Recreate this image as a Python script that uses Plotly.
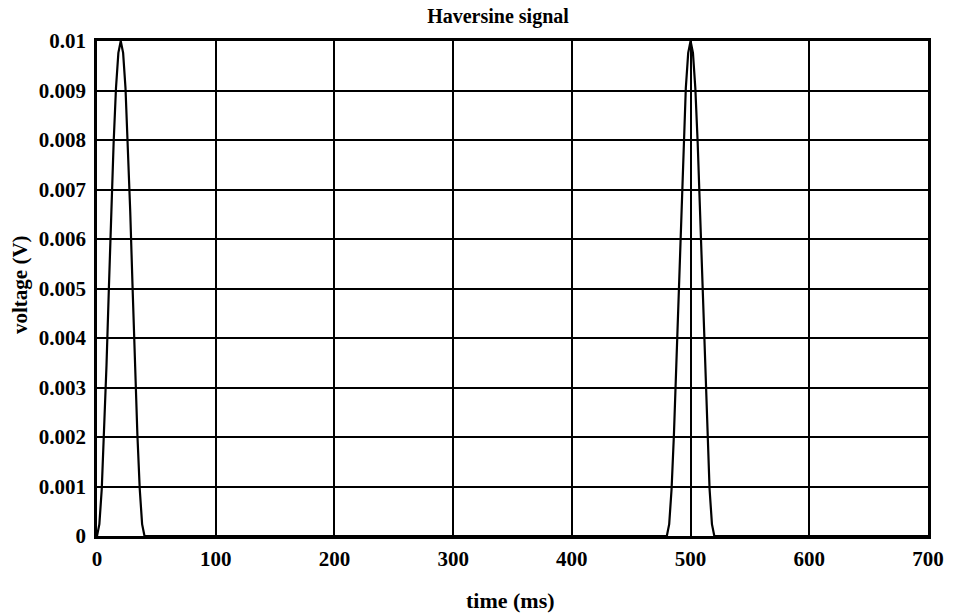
import plotly.graph_objects as go

# time samples (ms) and voltage (V)
time_ms = [0, 2, 4, 6, 8, 10, 12, 14, 16, 18, 20, 22, 24, 26, 28, 30, 32, 34, 36, 38, 40,
           480, 482, 484, 486, 488, 490, 492, 494, 496, 498, 500, 502, 504, 506, 508, 510,
           512, 514, 516, 518, 520,
           700]
voltage_v = [0, 0.00024, 0.00095, 0.00206, 0.00345, 0.005, 0.00655, 0.00794, 0.00905, 0.00976, 0.01,
             0.00976, 0.00905, 0.00794, 0.00655, 0.005, 0.00345, 0.00206, 0.00095, 0.00024, 0,
             0, 0.00024, 0.00095, 0.00206, 0.00345, 0.005, 0.00655, 0.00794, 0.00905, 0.00976, 0.01,
             0.00976, 0.00905, 0.00794, 0.00655, 0.005, 0.00345, 0.00206, 0.00095, 0.00024, 0,
             0]

x_ticks = [0, 100, 200, 300, 400, 500, 600, 700]
x_tick_labels = ["0", "100", "200", "300", "400", "500", "600", "700"]
y_ticks = [0, 0.001, 0.002, 0.003, 0.004, 0.005, 0.006, 0.007, 0.008, 0.009, 0.01]
y_tick_labels = ["0", "0.001", "0.002", "0.003", "0.004", "0.005", "0.006", "0.007", "0.008", "0.009", "0.01"]

font_family = "Liberation Serif"
W, H = 953, 616

fig = go.Figure()
fig.add_trace(go.Scatter(
    x=time_ms, y=voltage_v, mode="lines",
    line=dict(color="black", width=2.2),
    showlegend=False, hoverinfo="skip",
))

fig.update_layout(
    width=W, height=H,
    margin=dict(l=97, r=25, t=41, b=80, autoexpand=False),
    paper_bgcolor="white", plot_bgcolor="white",
    font=dict(family=font_family, color="black"),
    title=dict(text="<b>Haversine signal</b>", x=498 / W, xref="container", xanchor="center",
               y=1 - 16 / H, yref="container", yanchor="middle",
               font=dict(family=font_family, size=20, color="black")),
)

fig.update_xaxes(
    range=[0, 700], tickvals=x_ticks, ticktext=x_tick_labels,
    showgrid=True, gridcolor="black", gridwidth=1.6,
    showline=True, linecolor="black", linewidth=2.5, mirror=True,
    zeroline=False, ticks="", ticklabelstandoff=2, automargin=False,
    tickfont=dict(family=font_family, size=21, color="black", weight="bold"),
)
fig.update_yaxes(
    range=[0, 0.01], tickvals=y_ticks, ticktext=y_tick_labels,
    showgrid=True, gridcolor="black", gridwidth=1.6,
    showline=True, linecolor="black", linewidth=2.5, mirror=True,
    zeroline=False, ticks="", ticklabelstandoff=4, automargin=False,
    tickfont=dict(family=font_family, size=21, color="black", weight="bold"),
)

fig.add_annotation(text="<b>time (ms)</b>", xref="paper", yref="paper",
                   x=(510 - 97) / (W - 97 - 25), y=-(600 - (H - 80)) / (H - 41 - 80),
                   xanchor="center", yanchor="middle", showarrow=False,
                   font=dict(family=font_family, size=22, color="black"))
fig.add_annotation(text="<b>voltage (V)</b>", xref="paper", yref="paper",
                   x=-(97 - 20) / (W - 97 - 25), y=1 - (285 - 41) / (H - 41 - 80),
                   xanchor="center", yanchor="middle", showarrow=False, textangle=-90,
                   font=dict(family=font_family, size=21, color="black"))

fig.write_html("out.html")
